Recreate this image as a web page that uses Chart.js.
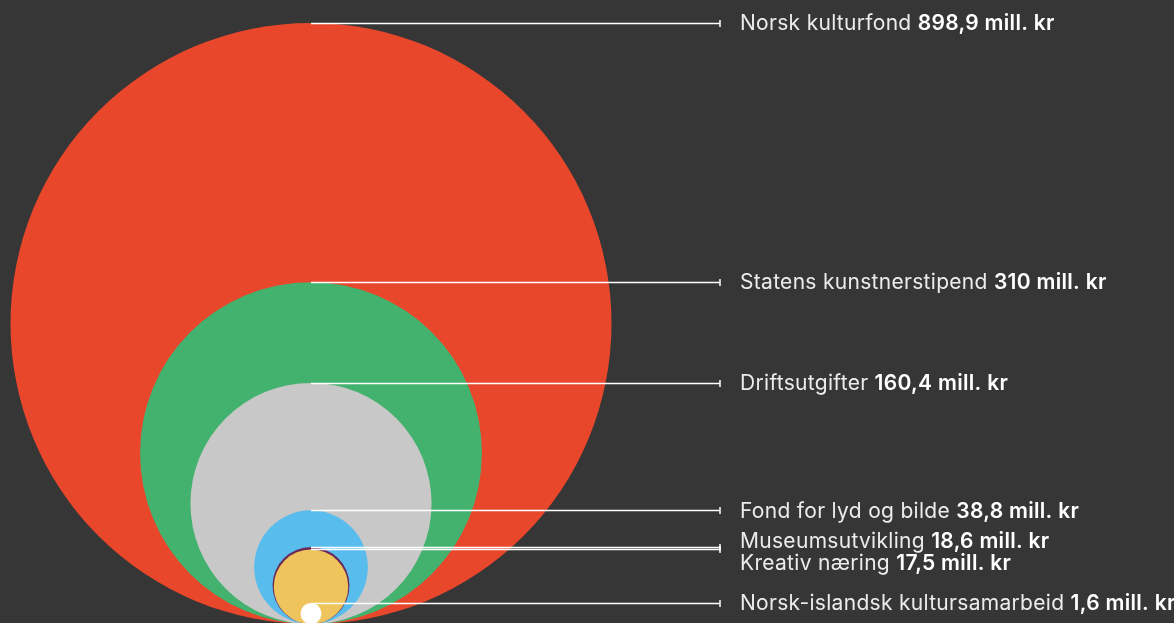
<!DOCTYPE html>
<html>
<head>
<meta charset="utf-8">
<script src="https://cdn.jsdelivr.net/npm/chart.js@4.4.1/dist/chart.umd.min.js"></script>
<style>
  html, body { margin: 0; padding: 0; background: #363636; }
  #wrap { width: 1174px; height: 623px; }
</style>
</head>
<body>
<div id="wrap"><canvas id="bubbles"></canvas></div>
<script>
// Budget posts, largest first (mill. kr)
const names = [
    'Norsk kulturfond',
    'Statens kunstnerstipend',
    'Driftsutgifter',
    'Fond for lyd og bilde',
    'Museumsutvikling',
    'Kreativ næring',
    'Norsk-islandsk kultursamarbeid'
];
const values = [898.9, 310, 160.4, 38.8, 18.6, 17.5, 1.6];
const valueLabels = ['898,9', '310', '160,4', '38,8', '18,6', '17,5', '1,6'];
const colors = ['#e8472c', '#44b26f', '#c8c8c8', '#58bcec', '#6a2a5a', '#f0c45c', '#ffffff'];

// radius scale (power scale, like the original)
const EXP = 0.53;
const rad = v => Math.pow(v, EXP);

// all circles sit on the same baseline, so centre y == radius
const points = values.map(v => ({ x: 0, y: rad(v) }));

const topUnits = 2 * rad(values[0]);

// labels: line from top of each circle to the right, then the text
const labelPlugin = {
    id: 'circleLabels',
    afterDatasetsDraw(chart) {
        const ctx = chart.ctx;
        const meta = chart.getDatasetMeta(0);
        const lineEnd = 720;
        const textX = 740;
        const tops = meta.data.map(el => el.y - el.options.radius);

        // push apart labels that would overlap
        const textY = tops.slice();
        for (let i = 1; i < textY.length; i++) {
            if (textY[i] - textY[i - 1] < 22) {
                const mid = (tops[i] + tops[i - 1]) / 2 + 3;
                textY[i - 1] = mid - 11;
                textY[i] = mid + 11;
            }
        }

        ctx.save();
        ctx.letterSpacing = '0.3px';
        meta.data.forEach((el, i) => {
            const y = Math.round(tops[i]) + 0.5;
            ctx.strokeStyle = '#ffffff';
            ctx.lineWidth = 1.5;
            ctx.beginPath();
            ctx.moveTo(el.x, y);
            ctx.lineTo(lineEnd, y);
            ctx.moveTo(lineEnd, y - 3.5);
            ctx.lineTo(lineEnd, y + 3.5);
            ctx.stroke();

            ctx.textBaseline = 'middle';
            ctx.textAlign = 'left';
            ctx.font = '400 21px Inter, "Liberation Sans", sans-serif';
            ctx.fillStyle = '#ececec';
            const first = names[i] + ' ';
            ctx.fillText(first, textX, textY[i] + 1);
            const w = ctx.measureText(first).width;
            ctx.font = '600 21px Inter, "Liberation Sans", sans-serif';
            ctx.fillStyle = '#ffffff';
            ctx.fillText(valueLabels[i] + ' mill. kr', textX + w, textY[i] + 1);
        });
        ctx.restore();
    }
};

new Chart(document.getElementById('bubbles'), {
    type: 'scatter',
    data: {
        datasets: [{
            data: points,
            backgroundColor: colors,
            borderColor: colors,
            borderWidth: 0,
            pointRadius: ctx => {
                const s = ctx.chart.scales.y;
                if (!ctx.raw) return 0;
                return s.getPixelForValue(0) - s.getPixelForValue(ctx.raw.y);
            },
            pointHoverRadius: ctx => {
                const s = ctx.chart.scales.y;
                if (!ctx.raw) return 0;
                return s.getPixelForValue(0) - s.getPixelForValue(ctx.raw.y);
            },
            clip: false
        }]
    },
    options: {
        responsive: true,
        maintainAspectRatio: false,
        animation: false,
        layout: { padding: 0 },
        plugins: {
            legend: { display: false },
            tooltip: { enabled: false }
        },
        scales: {
            x: { display: false, min: -311, max: 863 },
            // baseline sits 1px below the canvas, largest top at 23px
            y: {
                display: false,
                min: topUnits / 601,
                max: topUnits / 601 * 624
            }
        }
    },
    plugins: [labelPlugin]
});
</script>
</body>
</html>
